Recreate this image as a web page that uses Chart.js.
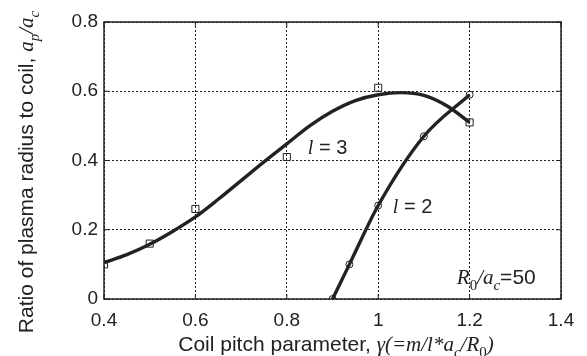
<!DOCTYPE html>
<html><head><meta charset="utf-8">
<script src="https://cdn.jsdelivr.net/npm/chart.js@4/dist/chart.umd.min.js"></script>
<style>html,body{margin:0;padding:0;background:#fff}#w{width:587px;height:356px}</style>
</head><body><div id="w"><canvas id="c"></canvas></div>
<script>
// Measured points, l = 3 (squares)
const l3X = [0.4, 0.5, 0.6, 0.8, 1.0, 1.2];
const l3Y = [0.10, 0.16, 0.26, 0.41, 0.61, 0.51];
// Fitted curve for l = 3
const l3FitX = [0.4, 0.45, 0.5, 0.55, 0.6, 0.65, 0.7, 0.75, 0.8, 0.85, 0.9, 0.95, 1.0, 1.05, 1.1, 1.15, 1.2];
const l3FitY = [0.105, 0.128, 0.158, 0.195, 0.237, 0.288, 0.342, 0.396, 0.448, 0.500, 0.542, 0.573, 0.590, 0.596, 0.588, 0.558, 0.510];
// Measured points, l = 2 (circles)
const l2X = [0.9, 0.937, 1.0, 1.1, 1.2];
const l2Y = [0.0, 0.10, 0.27, 0.47, 0.59];
const xTicks = [0.4, 0.6, 0.8, 1.0, 1.2, 1.4];
const yTicks = [0, 0.2, 0.4, 0.6, 0.8];

const pts = (xs, ys) => xs.map((x, i) => ({x, y: ys[i]}));
const INK = '#222';
const SANS = '"Liberation Sans", Arial, sans-serif';
const SERIF = '"Liberation Serif", "Times New Roman", serif';

function drawRich(ctx, parts, x, y, size) {
  let cx = x;
  for (const [t, st] of parts) {
    let font, dy = 0;
    if (st === 'n') font = `${size}px ${SANS}`;
    else if (st === 'i') font = `italic ${size}px ${SERIF}`;
    else if (st === 's') { font = `${Math.round(size*0.72)}px ${SERIF}`; dy = size*0.28; }
    else if (st === 'si') { font = `italic ${Math.round(size*0.72)}px ${SERIF}`; dy = size*0.28; }
    ctx.font = font;
    ctx.fillText(t, cx, y + dy);
    cx += ctx.measureText(t).width;
  }
  return cx - x;
}
function measureRich(ctx, parts, size) {
  ctx.save(); ctx.globalAlpha = 0;
  const w = drawRich(ctx, parts, -2000, -2000, size);
  ctx.restore();
  return w;
}

const deco = {
  id: 'deco',
  afterDraw(chart) {
    const {ctx, chartArea: a, scales: {x, y}} = chart;
    ctx.save();
    ctx.strokeStyle = INK; ctx.lineWidth = 1.5; ctx.setLineDash([]);
    ctx.strokeRect(a.left, a.top, a.right - a.left, a.bottom - a.top);
    ctx.lineWidth = 1;
    for (const v of xTicks) {
      const px = x.getPixelForValue(v);
      ctx.beginPath(); ctx.moveTo(px, a.bottom); ctx.lineTo(px, a.bottom - 5);
      ctx.moveTo(px, a.top); ctx.lineTo(px, a.top + 5); ctx.stroke();
    }
    for (const v of yTicks) {
      const py = y.getPixelForValue(v);
      ctx.beginPath(); ctx.moveTo(a.left, py); ctx.lineTo(a.left + 5, py);
      ctx.moveTo(a.right, py); ctx.lineTo(a.right - 5, py); ctx.stroke();
    }
    ctx.fillStyle = INK; ctx.textBaseline = 'alphabetic'; ctx.textAlign = 'left';
    drawRich(ctx, [['l', 'i'], [' = 3', 'n']], x.getPixelForValue(0.846), y.getPixelForValue(0.44) + 7, 20);
    drawRich(ctx, [['l', 'i'], [' = 2', 'n']], x.getPixelForValue(1.032), y.getPixelForValue(0.27) + 7, 20);
    drawRich(ctx, [['R', 'i'], ['0', 's'], ['/a', 'i'], ['c', 'si'], ['=50', 'n']], x.getPixelForValue(1.172), y.getPixelForValue(0.064) + 7, 21);
    const xParts = [['Coil pitch parameter, ', 'n'], ['γ(=m/l*a', 'i'], ['c', 'si'], ['/R', 'i'], ['0', 's'], [')', 'i']];
    const wX = measureRich(ctx, xParts, 21);
    drawRich(ctx, xParts, 336 - wX / 2, 351, 21);
    const yParts = [['Ratio of plasma radius to coil, ', 'n'], ['a', 'i'], ['p', 'si'], ['/a', 'i'], ['c', 'si']];
    const wY = measureRich(ctx, yParts, 21);
    ctx.translate(33, 172); ctx.rotate(-Math.PI / 2);
    drawRich(ctx, yParts, -wY / 2, 0, 21);
    ctx.restore();
  }
};

new Chart(document.getElementById('c'), {
  type: 'scatter',
  data: {
    datasets: [
      {label: 'l=3 fit', data: pts(l3FitX, l3FitY), showLine: true, borderColor: INK, borderWidth: 3.4, pointRadius: 0, tension: 0.4, cubicInterpolationMode: 'monotone', fill: false},
      {label: 'l=3', data: pts(l3X, l3Y), showLine: false, pointStyle: 'rect', pointRadius: 5, borderColor: INK, backgroundColor: 'rgba(255,255,255,0)', borderWidth: 1},
      {label: 'l=2', data: pts(l2X, l2Y), showLine: true, borderColor: INK, borderWidth: 3.4, tension: 0.3, cubicInterpolationMode: 'monotone', pointStyle: 'circle', pointRadius: 3.5, pointBorderWidth: 1, pointBorderColor: INK, pointBackgroundColor: 'rgba(255,255,255,0)', fill: false}
    ]
  },
  options: {
    responsive: true, maintainAspectRatio: false, animation: false,
    layout: {padding: {top: 22, right: 26, left: 0, bottom: 0}},
    plugins: {legend: {display: false}, tooltip: {enabled: false}},
    scales: {
      x: {
        type: 'linear', min: 0.4, max: 1.4,
        afterBuildTicks: s => { s.ticks = xTicks.map(v => ({value: v})); },
        afterFit: s => { s.height = 57; },
        grid: {color: INK, lineWidth: 1, drawTicks: false},
        border: {display: false, dash: [2, 2]},
        ticks: {color: INK, padding: 10, font: {family: SANS, size: 19}, callback: v => String(+v.toFixed(1))}
      },
      y: {
        type: 'linear', min: 0, max: 0.8,
        afterBuildTicks: s => { s.ticks = yTicks.map(v => ({value: v})); },
        afterFit: s => { s.width = 104; },
        grid: {color: INK, lineWidth: 1, drawTicks: false},
        border: {display: false, dash: [2, 2]},
        ticks: {color: INK, padding: 6, font: {family: SANS, size: 19}, callback: v => String(+v.toFixed(1))}
      }
    }
  },
  plugins: [deco]
});
</script></body></html>
